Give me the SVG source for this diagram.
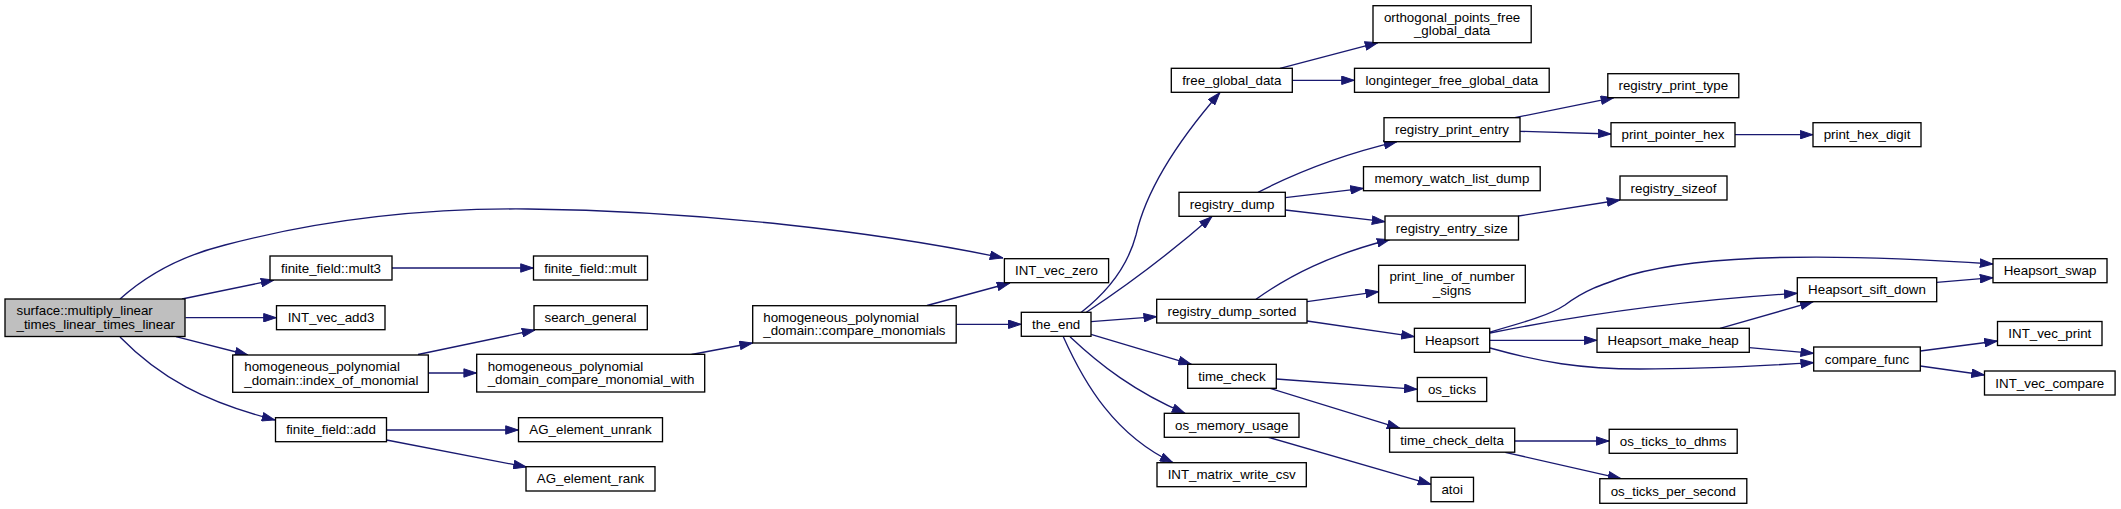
<svg xmlns="http://www.w3.org/2000/svg" width="2121" height="509" viewBox="0 0 2121 509">
<style>
.node rect{fill:#ffffff;stroke:#000000;stroke-width:1.33}
#n_main rect{fill:#bfbfbf}
text{font-family:"Liberation Sans",Arial,Helvetica,sans-serif;font-size:13.33px;fill:#000000}
.c{text-anchor:middle}
.edges path{fill:none;stroke:#191970;stroke-width:1.33;marker-end:url(#arr)}
</style>
<defs>
<marker id="arr" markerUnits="userSpaceOnUse" viewBox="0 0 13.5 9.4" refX="13.3" refY="4.7" markerWidth="13.5" markerHeight="9.4" orient="auto">
<path d="M0.5,0.5 L13,4.7 L0.5,8.9 z" fill="#191970" stroke="#191970" stroke-width="1"/>
</marker>
</defs>
<rect width="2121" height="509" fill="#ffffff"/>
<g class="edges" id="edges">
<path d="M120,299 C150,272 185,255 225,245 C320,220 420,208 528,209 C700,211 880,232 1003,258"/>
<path d="M182,299 L274,280"/>
<path d="M185.5,317.7 L276.5,317.7"/>
<path d="M176,336.7 L248,355"/>
<path d="M120,337 C160,378 205,402 275,420"/>
<path d="M392,268 L533.5,268"/>
<path d="M418,354.5 L535,330"/>
<path d="M428.5,373 L476.7,373"/>
<path d="M691.5,354.5 L752.7,343"/>
<path d="M927,305.5 L1010,283"/>
<path d="M956.5,324.3 L1021.3,324.3"/>
<path d="M387,430 L518.5,430"/>
<path d="M386.5,440 L526.5,467"/>
<path d="M1081,312.5 C1110,290 1128,265 1136,235 C1145,195 1170,150 1220,92.5"/>
<path d="M1086,312.5 C1120,290 1160,262 1212,216.5"/>
<path d="M1091,321.7 L1156.7,316.7"/>
<path d="M1091,334.3 L1191.5,364.3"/>
<path d="M1070,336.7 C1100,365 1135,392 1185,413.3"/>
<path d="M1063.3,336.7 C1085,385 1115,435 1173,462.7"/>
<path d="M1280,68.3 L1378,42.7"/>
<path d="M1292.5,80.3 L1354.5,80.3"/>
<path d="M1258,192.3 C1290,176 1340,155 1397,141.7"/>
<path d="M1285.3,197.7 L1363.5,188.3"/>
<path d="M1285.3,210 L1385,221.7"/>
<path d="M1256,299.3 C1290,275 1330,255 1390,239.5"/>
<path d="M1307,301.7 L1378.6,291.7"/>
<path d="M1307,321 L1414.4,336.7"/>
<path d="M1514.7,117.7 L1613.9,97.7"/>
<path d="M1520,131.3 L1611,134"/>
<path d="M1735,134.7 L1813,134.7"/>
<path d="M1518.5,216 L1620,200"/>
<path d="M1490,332 C1525,322 1550,315 1565,305 C1585,290 1600,285 1630,275 C1700,255 1820,252 1993,264"/>
<path d="M1490,333 Q1640,303 1797.3,293.3"/>
<path d="M1489.7,340.3 L1597,340.3"/>
<path d="M1490,348 C1540,362 1580,369 1640,369 C1700,369 1760,366 1813.7,362.7"/>
<path d="M1720,328.3 L1813.3,301.7"/>
<path d="M1749.3,347.7 L1813.7,353.3"/>
<path d="M1936.7,282.3 L1993,277.7"/>
<path d="M1920.3,351 L1997.5,341"/>
<path d="M1920.3,366 L1984.5,375"/>
<path d="M1276.3,379 L1417.3,389.3"/>
<path d="M1270,388.3 L1400,428.3"/>
<path d="M1268.3,437.3 L1431,484.3"/>
<path d="M1514.7,441 L1609.2,441"/>
<path d="M1505.2,452.3 L1621,478.7"/>
</g>
<g class="node" id="n_main"><rect x="5" y="299" width="180" height="37.5"/><text x="16.5" y="315">surface::multiply_linear</text><text x="16.5" y="328.5">_times_linear_times_linear</text></g>
<g class="node" id="n_mult3"><rect x="270" y="256" width="122" height="24"/><text class="c" x="331" y="272.6">finite_field::mult3</text></g>
<g class="node" id="n_add3"><rect x="276.5" y="305.7" width="108.5" height="24"/><text class="c" x="331" y="322.3">INT_vec_add3</text></g>
<g class="node" id="n_index"><rect x="232.7" y="355" width="195.6" height="37.3"/><text x="244.3" y="371">homogeneous_polynomial</text><text x="244.3" y="384.5">_domain::index_of_monomial</text></g>
<g class="node" id="n_add"><rect x="275.5" y="417.7" width="111" height="24"/><text class="c" x="331" y="434.3">finite_field::add</text></g>
<g class="node" id="n_mult"><rect x="533.5" y="256" width="114" height="24"/><text class="c" x="590.5" y="272.6">finite_field::mult</text></g>
<g class="node" id="n_search"><rect x="534" y="305.7" width="113.3" height="24"/><text class="c" x="590.5" y="322.3">search_general</text></g>
<g class="node" id="n_cmw"><rect x="476.7" y="354.3" width="228" height="37.7"/><text x="487.7" y="370.5">homogeneous_polynomial</text><text x="487.7" y="384">_domain_compare_monomial_with</text></g>
<g class="node" id="n_agu"><rect x="518.5" y="417.7" width="144" height="24"/><text class="c" x="590.5" y="434.3">AG_element_unrank</text></g>
<g class="node" id="n_agr"><rect x="526" y="466.7" width="129" height="24.3"/><text class="c" x="590.5" y="483.4">AG_element_rank</text></g>
<g class="node" id="n_cm"><rect x="752.7" y="305.7" width="203.5" height="37.3"/><text x="763.3" y="321.7">homogeneous_polynomial</text><text x="763.3" y="335.2">_domain::compare_monomials</text></g>
<g class="node" id="n_vzero"><rect x="1004.4" y="258.7" width="104.2" height="24"/><text class="c" x="1056.5" y="275.3">INT_vec_zero</text></g>
<g class="node" id="n_end"><rect x="1021.3" y="312.3" width="69.7" height="24"/><text class="c" x="1056.2" y="328.9">the_end</text></g>
<g class="node" id="n_fgd"><rect x="1171.3" y="68.3" width="121" height="24"/><text class="c" x="1231.8" y="84.9">free_global_data</text></g>
<g class="node" id="n_rd"><rect x="1179" y="192.3" width="106.3" height="24"/><text class="c" x="1232.1" y="208.9">registry_dump</text></g>
<g class="node" id="n_rds"><rect x="1156.7" y="299.3" width="150.3" height="23.7"/><text class="c" x="1231.9" y="315.8">registry_dump_sorted</text></g>
<g class="node" id="n_tc"><rect x="1187.7" y="364.3" width="88.6" height="24"/><text class="c" x="1232" y="380.9">time_check</text></g>
<g class="node" id="n_omu"><rect x="1164.3" y="413.3" width="134.7" height="24"/><text class="c" x="1231.7" y="429.9">os_memory_usage</text></g>
<g class="node" id="n_imw"><rect x="1157" y="462.7" width="149.3" height="24"/><text class="c" x="1231.7" y="479.3">INT_matrix_write_csv</text></g>
<g class="node" id="n_opf"><rect x="1373" y="5.7" width="158.2" height="37"/><text class="c" x="1452.1" y="21.5">orthogonal_points_free</text><text class="c" x="1452.1" y="35">_global_data</text></g>
<g class="node" id="n_lfg"><rect x="1354.5" y="68.3" width="194.7" height="24"/><text class="c" x="1451.9" y="84.9">longinteger_free_global_data</text></g>
<g class="node" id="n_rpe"><rect x="1384" y="117.7" width="136" height="24"/><text class="c" x="1452" y="134.3">registry_print_entry</text></g>
<g class="node" id="n_mwl"><rect x="1363.5" y="166.7" width="176.7" height="24"/><text class="c" x="1451.9" y="183.3">memory_watch_list_dump</text></g>
<g class="node" id="n_res"><rect x="1385" y="216" width="133.5" height="24"/><text class="c" x="1451.8" y="232.6">registry_entry_size</text></g>
<g class="node" id="n_pln"><rect x="1378.6" y="265.3" width="146.7" height="37.4"/><text class="c" x="1452" y="281.3">print_line_of_number</text><text class="c" x="1452" y="294.8">_signs</text></g>
<g class="node" id="n_hs"><rect x="1414.4" y="328.3" width="75.3" height="24"/><text class="c" x="1452" y="344.9">Heapsort</text></g>
<g class="node" id="n_ost"><rect x="1417.3" y="377.5" width="69.4" height="24"/><text class="c" x="1452" y="394.1">os_ticks</text></g>
<g class="node" id="n_tcd"><rect x="1389.6" y="428.2" width="125.1" height="24"/><text class="c" x="1452.1" y="444.8">time_check_delta</text></g>
<g class="node" id="n_atoi"><rect x="1431" y="477.3" width="42.5" height="24.4"/><text class="c" x="1452.2" y="494.1">atoi</text></g>
<g class="node" id="n_rpt"><rect x="1607.8" y="73.7" width="131" height="24"/><text class="c" x="1673.3" y="90.3">registry_print_type</text></g>
<g class="node" id="n_pph"><rect x="1611" y="122.7" width="124" height="24"/><text class="c" x="1673" y="139.3">print_pointer_hex</text></g>
<g class="node" id="n_rso"><rect x="1620" y="176" width="107" height="24"/><text class="c" x="1673.5" y="192.6">registry_sizeof</text></g>
<g class="node" id="n_hmh"><rect x="1597" y="328.3" width="152.3" height="24"/><text class="c" x="1673.2" y="344.9">Heapsort_make_heap</text></g>
<g class="node" id="n_otd"><rect x="1609.2" y="429.3" width="128" height="24"/><text class="c" x="1673.2" y="445.9">os_ticks_to_dhms</text></g>
<g class="node" id="n_ops"><rect x="1599.8" y="478.7" width="147" height="24.6"/><text class="c" x="1673.3" y="495.6">os_ticks_per_second</text></g>
<g class="node" id="n_phd"><rect x="1813" y="122.7" width="108" height="24"/><text class="c" x="1867" y="139.3">print_hex_digit</text></g>
<g class="node" id="n_hsd"><rect x="1797.3" y="277.7" width="139.4" height="24"/><text class="c" x="1867" y="294.3">Heapsort_sift_down</text></g>
<g class="node" id="n_cf"><rect x="1813.7" y="347" width="106.6" height="24"/><text class="c" x="1867" y="363.6">compare_func</text></g>
<g class="node" id="n_hsw"><rect x="1993" y="258.7" width="114" height="24"/><text class="c" x="2050" y="275.3">Heapsort_swap</text></g>
<g class="node" id="n_ivp"><rect x="1997.5" y="321.5" width="104.5" height="24"/><text class="c" x="2049.8" y="338.1">INT_vec_print</text></g>
<g class="node" id="n_ivc"><rect x="1984.5" y="371" width="130.6" height="24"/><text class="c" x="2049.8" y="387.6">INT_vec_compare</text></g>
</svg>
